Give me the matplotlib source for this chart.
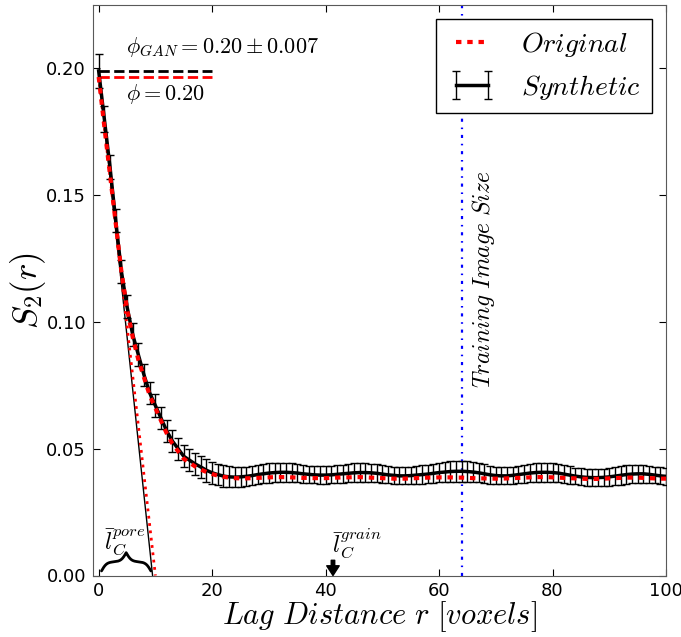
"""Two-point probability S2(r): original vs synthetic (GAN) samples."""
import numpy as np
import matplotlib.pyplot as plt

plt.rcParams["mathtext.fontset"] = "cm"
plt.rcParams["font.family"] = ["DejaVu Sans"]

# lag distances in voxels
lag = np.arange(0, 101)

s2_synthetic = [
    0.199, 0.180, 0.161, 0.140, 0.120, 0.106, 0.095, 0.087, 0.079, 0.072,
    0.067, 0.062, 0.057, 0.053, 0.050, 0.047, 0.0455, 0.0440, 0.0428, 0.0415,
    0.0405, 0.0398, 0.0392, 0.0389, 0.0388, 0.0389, 0.0391, 0.0394, 0.0398, 0.0401,
    0.0404, 0.0406, 0.0407, 0.0407, 0.0406, 0.0404, 0.0401, 0.0399, 0.0397, 0.0396,
    0.0396, 0.0397, 0.0399, 0.0401, 0.0403, 0.0405, 0.0406, 0.0406, 0.0405, 0.0403,
    0.0400, 0.0397, 0.0395, 0.0393, 0.0393, 0.0394, 0.0396, 0.0398, 0.0400, 0.0403,
    0.0406, 0.0408, 0.0410, 0.0411, 0.0411, 0.0410, 0.0408, 0.0405, 0.0401, 0.0397,
    0.0394, 0.0393, 0.0393, 0.0395, 0.0398, 0.0401, 0.0404, 0.0406, 0.0407, 0.0407,
    0.0406, 0.0404, 0.0400, 0.0396, 0.0392, 0.0389, 0.0387, 0.0386, 0.0386, 0.0387,
    0.0389, 0.0392, 0.0395, 0.0398, 0.0400, 0.0401, 0.0401, 0.0399, 0.0396, 0.0393,
    0.0391,
]

s2_synthetic_err = [
    0.0068, 0.0050, 0.0048, 0.0047, 0.0046, 0.0045, 0.0045, 0.0045, 0.0044, 0.0044,
    0.0044, 0.0044, 0.0044, 0.0044, 0.0044, 0.0044, 0.0044, 0.0045, 0.0045, 0.0045,
    0.0044, 0.0043, 0.0042, 0.0041, 0.0040, 0.0039, 0.0038, 0.0038, 0.0038, 0.0038,
    0.0038, 0.0038, 0.0038, 0.0037, 0.0037, 0.0036, 0.0035, 0.0034, 0.0034, 0.0034,
    0.0034, 0.0034, 0.0035, 0.0035, 0.0036, 0.0037, 0.0037, 0.0037, 0.0036, 0.0035,
    0.0034, 0.0034, 0.0033, 0.0033, 0.0033, 0.0034, 0.0035, 0.0036, 0.0037, 0.0038,
    0.0039, 0.0040, 0.0041, 0.0041, 0.0041, 0.0040, 0.0039, 0.0038, 0.0037, 0.0036,
    0.0035, 0.0034, 0.0034, 0.0034, 0.0035, 0.0036, 0.0037, 0.0038, 0.0038, 0.0038,
    0.0037, 0.0036, 0.0035, 0.0034, 0.0033, 0.0033, 0.0033, 0.0033, 0.0034, 0.0034,
    0.0035, 0.0036, 0.0037, 0.0037, 0.0037, 0.0036, 0.0035, 0.0034, 0.0033, 0.0033,
    0.0033,
]

s2_original = [
    0.1966, 0.177, 0.158, 0.139, 0.120, 0.105, 0.094, 0.085, 0.078, 0.071,
    0.066, 0.061, 0.056, 0.052, 0.049, 0.046, 0.0445, 0.0430, 0.0418, 0.0408,
    0.0400, 0.0394, 0.0389, 0.0386, 0.0384, 0.0383, 0.0383, 0.0384, 0.0385, 0.0386,
    0.0387, 0.0388, 0.0388, 0.0388, 0.0387, 0.0386, 0.0385, 0.0385, 0.0384, 0.0384,
    0.0384, 0.0385, 0.0386, 0.0387, 0.0387, 0.0388, 0.0388, 0.0387, 0.0386, 0.0385,
    0.0384, 0.0383, 0.0382, 0.0382, 0.0382, 0.0383, 0.0384, 0.0385, 0.0386, 0.0386,
    0.0387, 0.0387, 0.0387, 0.0386, 0.0386, 0.0385, 0.0384, 0.0383, 0.0383, 0.0382,
    0.0382, 0.0382, 0.0383, 0.0384, 0.0385, 0.0386, 0.0387, 0.0388, 0.0388, 0.0388,
    0.0387, 0.0386, 0.0385, 0.0384, 0.0383, 0.0382, 0.0381, 0.0381, 0.0381, 0.0382,
    0.0383, 0.0384, 0.0385, 0.0386, 0.0386, 0.0386, 0.0385, 0.0384, 0.0383, 0.0382,
    0.0382,
]

# porosities and chord lengths
phi_gan = 0.199
phi_orig = 0.1966
chord_gan = 9.5
chord_orig = 10.0
porosity_line_end = 20
training_image_size = 64
grain_chord = 41.3


def curly_brace(ax, x0, x1, y0, height, beta=2.2):
    # horizontal curly brace, tip pointing up
    x = np.linspace(x0, x1, 201)
    half = x[:101]
    yh = 1 / (1 + np.exp(-beta * (half - half[0]))) + 1 / (1 + np.exp(-beta * (half - half[-1])))
    yy = np.concatenate((yh, yh[-2::-1]))
    ax.plot(x, y0 + (yy - 0.5) * height, color="k", lw=2, solid_capstyle="round")


fig = plt.figure(figsize=(6.81, 6.37), dpi=100)
ax = fig.add_axes([93 / 681, 61.5 / 637, 573 / 681, 570.5 / 637])

syn = ax.errorbar(lag, s2_synthetic, yerr=s2_synthetic_err, color="k", lw=2.5,
                  elinewidth=1, capsize=3, capthick=1, label=r"$Synthetic$", zorder=3)
orig, = ax.plot(lag, s2_original, color="r", lw=3, linestyle=(0, (1.3, 1.4)),
                label=r"$Original$", zorder=4)

# porosity levels
ax.plot([0, porosity_line_end], [phi_gan, phi_gan], "k--", lw=2)
ax.plot([0, porosity_line_end], [phi_orig, phi_orig], "r--", lw=2)
ax.text(4.8, 0.2085, r"$\phi_{GAN} = 0.20 \pm 0.007$", fontsize=16, va="center")
ax.text(4.8, 0.190, r"$\phi = 0.20$", fontsize=16, va="center")

# slope at origin
ax.plot([0, chord_gan], [phi_gan, 0], color="k", lw=1, zorder=2)
ax.plot([0, chord_orig], [phi_orig, 0], color="r", lw=2, linestyle=":", zorder=2)

# training image size
ax.axvline(training_image_size, color="b", lw=1.6, linestyle=(0, (1.4, 2.6, 0.7, 2.6)))
ax.text(training_image_size + 3.8, 0.117, r"$Training\ Image\ Size$", rotation=90,
        fontsize=17, ha="center", va="center")

# chord length markers
curly_brace(ax, 0.5, chord_gan - 0.3, 0.0018, 0.0072)
ax.text(1.0, 0.0128, r"$\bar{l}_C^{pore}$", fontsize=17, va="center")
ax.annotate("", xy=(grain_chord, 0), xytext=(grain_chord, 0.006),
            arrowprops=dict(facecolor="k", edgecolor="k", width=2.5,
                            headwidth=9, headlength=7, shrink=0))
ax.text(grain_chord - 0.2, 0.0125, r"$\bar{l}_C^{grain}$", fontsize=17, va="center")

ax.set_xlim(-1, 100)
ax.set_ylim(0, 0.225)
ax.set_xticks([0, 20, 40, 60, 80, 100])
ax.set_yticks([0.00, 0.05, 0.10, 0.15, 0.20])
ax.set_yticklabels(["0.00", "0.05", "0.10", "0.15", "0.20"])
ax.tick_params(direction="in", top=True, right=True, length=5, labelsize=13, pad=5)
for spine in ax.spines.values():
    spine.set_color("0.35")
ax.set_xlabel(r"$Lag\ Distance\ r\ [voxels]$", fontsize=22)
ax.xaxis.set_label_coords(0.5, -0.042)
ax.set_ylabel(r"$S_2(r)$", fontsize=25)
ax.yaxis.set_label_coords(-0.078, 0.5)

ax.legend(handles=[orig, syn], labels=[r"$Original$", r"$Synthetic$"],
          loc="upper right", fontsize=20, numpoints=2, handlelength=1.75,
          handletextpad=0.9, borderpad=0.4, fancybox=False, edgecolor="k",
          framealpha=1)

fig.savefig("out.png", dpi=100)
